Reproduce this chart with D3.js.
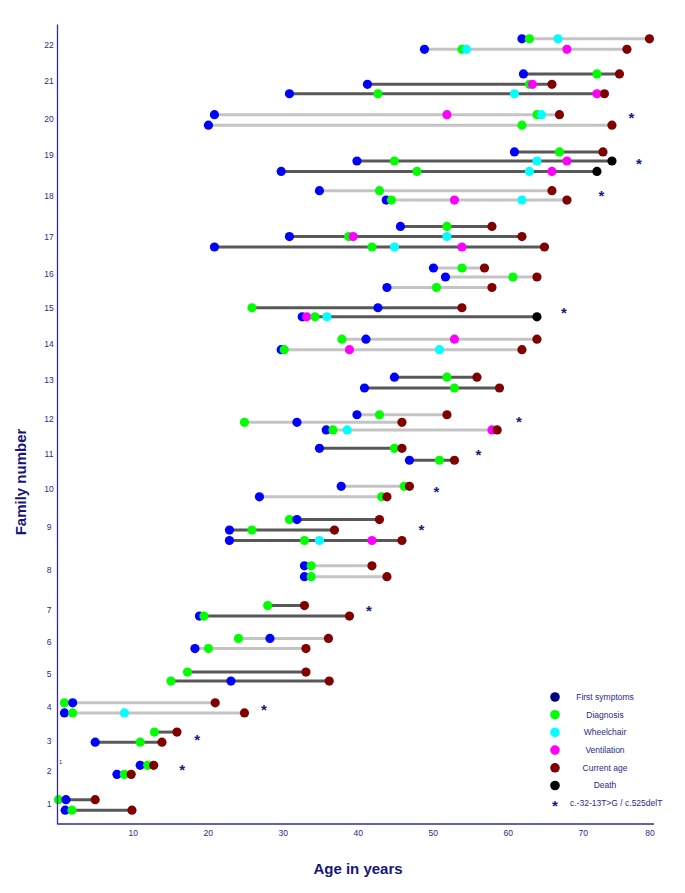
<!DOCTYPE html>
<html>
<head>
<meta charset="utf-8">
<script src="https://cdn.jsdelivr.net/npm/d3@7"></script>
<style>
  body { margin: 0; background: #fff; }
  svg text { font-family: "Liberation Sans", Arial, sans-serif; }
</style>
</head>
<body>
<div id="app"></div>
<script>
(function() {
  'use strict';

  // one entry per patient row, bottom to top
  var rowFamily = [1, 1, 2, 2, 3, 3, 4, 4, 5, 5, 6, 6, 7, 7, 8, 8, 9, 9, 9, 10, 10, 11, 11, 12, 12, 12,
    13, 13, 14, 14, 15, 15, 16, 16, 16, 17, 17, 17, 18, 18, 19, 19, 19, 20, 20, 21, 21, 21, 22, 22];
  var rowLevel = [0.83, 1.12, 1.82, 2.07, 2.71, 2.99, 3.52, 3.80, 4.40, 4.65, 5.30, 5.58, 6.20, 6.49,
    7.29, 7.59, 8.29, 8.58, 8.87, 9.50, 9.79, 10.51, 10.84, 11.35, 11.56, 11.77, 12.51, 12.81,
    13.57, 13.86, 14.48, 14.73, 15.29, 15.58, 15.83, 16.41, 16.70, 16.98, 17.71, 17.97,
    18.50, 18.79, 19.04, 19.78, 20.07, 20.65, 20.91, 21.20, 21.88, 22.17];

  var firstSymptoms = [1.0, 1.1, 7.9, 11.0, 5.0, null, 0.9, 2.0, 23.1, null, 18.3, 28.3, 18.9, null,
    32.9, 32.9, 22.9, 22.9, 31.9, 26.9, 37.8, 46.9, 34.9, 35.8, 31.9, 39.9, 40.9, 44.9,
    29.8, 41.1, 32.6, 42.7, 43.9, 51.7, 50.1, 20.9, 30.9, 45.7, 43.8, 34.9,
    29.8, 39.9, 60.9, 20.1, 20.9, 30.9, 41.3, 62.1, 48.9, 61.9];
  var diagnosis = [1.9, 0.1, 8.9, 12.0, 11.0, 12.9, 2.0, 0.9, 15.1, 17.3, 20.1, 24.1, 19.5, 28.0,
    33.8, 33.8, 32.9, 25.9, 30.9, 43.2, 46.2, 50.9, 44.9, 36.7, 24.9, 42.9, 52.9, 51.9,
    30.2, 37.9, 34.3, 25.9, 50.5, 60.7, 53.9, 41.9, 38.8, 51.9, 44.5, 42.9,
    47.9, 44.9, 66.9, 61.9, 63.9, 42.7, 62.9, 71.9, 53.9, 62.9];
  var wheelchair = [null, null, null, null, null, null, 8.9, null, null, null, null, null, null, null,
    null, null, 34.9, null, null, null, null, null, null, 38.6, null, null, null, null,
    50.9, null, 35.9, null, null, null, null, 44.9, 51.9, null, 61.9, null,
    62.9, 63.9, null, null, 64.5, 60.9, null, null, 54.5, 66.7];
  var ventilation = [null, null, null, null, null, null, null, null, null, null, null, null, null, null,
    null, null, 41.9, null, null, null, null, null, null, 57.9, null, null, null, null,
    38.9, 52.9, 33.2, null, null, null, null, 53.9, 39.4, null, 52.9, null,
    65.9, 67.9, null, null, 51.9, 71.9, 63.3, null, 67.9, null];
  var currentAge = [9.9, 5.0, 9.8, 12.8, 13.9, 15.9, 24.9, 21.0, 36.2, 33.1, 33.1, 36.1, 38.9, 32.9,
    43.9, 41.9, 45.9, 36.9, 42.9, 43.9, 46.9, 52.9, 45.9, 58.6, 45.9, 51.9, 58.9, 55.9,
    61.9, 63.9, null, 53.9, 57.9, 63.9, 56.9, 64.9, 61.9, 57.9, 67.9, 65.9,
    null, null, 72.7, 73.9, 66.9, 72.9, 65.9, 74.9, 75.9, 78.9];
  var death = [null, null, null, null, null, null, null, null, null, null, null, null, null, null,
    null, null, null, null, null, null, null, null, null, null, null, null, null, null,
    null, null, 63.9, null, null, null, null, null, null, null, null, null,
    71.9, 73.9, null, null, null, null, null, null, null, null];

  // family axis labels
  var familyLabels = [1, 2, 3, 4, 5, 6, 7, 8, 9, 10, 11, 12, 13, 14, 15, 16, 17, 18, 19, 20, 21, 22];
  var familyLabelLevel = [1.00, 1.92, 2.75, 3.68, 4.60, 5.50, 6.37, 7.49, 8.67, 9.72, 10.68, 11.66,
    12.74, 13.73, 14.73, 15.66, 16.70, 17.82, 18.95, 19.95, 21.02, 22.00];

  // families carrying c.-32-13T>G / c.525delT
  var mutationAge = [16.6, 18.6, 27.5, 41.5, 48.5, 50.5, 56.1, 61.5, 67.5, 72.5, 77.5, 76.5];
  var mutationLevel = [2.03, 2.86, 3.69, 6.43, 8.66, 9.71, 10.73, 11.64, 14.67, 17.91, 18.80, 20.06];

  var xTicks = [10, 20, 30, 40, 50, 60, 70, 80];

  var legendLabels = ['First symptoms', 'Diagnosis', 'Wheelchair', 'Ventilation', 'Current age', 'Death'];
  var legendColors = ['#000080', '#00ff00', '#00ffff', '#ff00ff', '#800000', '#000000'];

  var series = [
    {values: firstSymptoms, color: '#0000ff'},
    {values: diagnosis, color: '#00ff00'},
    {values: wheelchair, color: '#00ffff'},
    {values: ventilation, color: '#ff00ff'},
    {values: currentAge, color: '#800000'},
    {values: death, color: '#000000'}
  ];

  var width = 685, height = 893;
  var axisColor = '#2e2e9c';
  var textColor = '#2a2a86';
  var titleColor = '#16167a';

  var x = d3.scaleLinear().domain([0, 80]).range([57.7, 657.7]);
  var y = d3.scaleLinear().domain([0.447, 22.58]).range([824, 24]);

  var svg = d3.select('#app').append('svg')
    .attr('width', width).attr('height', height);

  // build rows
  var rows = rowFamily.map(function(fam, i) {
    var events = [];
    series.forEach(function(s) {
      if (s.values[i] != null) events.push({age: s.values[i], color: s.color});
    });
    events.sort(function(a, b) { return a.age - b.age; });
    return {family: fam, level: rowLevel[i], events: events};
  });

  // lines
  svg.append('g').selectAll('line').data(rows).enter().append('line')
    .attr('x1', function(d) { return x(d3.min(d.events, function(e) { return e.age; })); })
    .attr('x2', function(d) { return x(d3.max(d.events, function(e) { return e.age; })); })
    .attr('y1', function(d) { return y(d.level); })
    .attr('y2', function(d) { return y(d.level); })
    .attr('stroke', function(d) { return d.family % 2 ? '#585858' : '#c4c4c4'; })
    .attr('stroke-width', 3);

  // dots
  var rowG = svg.append('g').selectAll('g').data(rows).enter().append('g');
  rowG.selectAll('circle').data(function(d) {
    return d.events.map(function(e) { return {age: e.age, color: e.color, level: d.level}; });
  }).enter().append('circle')
    .attr('cx', function(d) { return x(d.age); })
    .attr('cy', function(d) { return y(d.level); })
    .attr('r', 4.6)
    .attr('fill', function(d) { return d.color; });

  // asterisks
  svg.append('g').selectAll('text').data(mutationAge).enter().append('text')
    .attr('x', function(d) { return x(d); })
    .attr('y', function(d, i) { return y(mutationLevel[i]) + 8; })
    .attr('text-anchor', 'middle')
    .attr('font-size', 15)
    .attr('font-weight', 'bold')
    .attr('fill', '#1a1a80')
    .text('*');

  // axes
  var xAxis = svg.append('g').attr('transform', 'translate(0,824)')
    .call(d3.axisBottom(x).tickValues(xTicks).tickSize(0).tickPadding(6));
  xAxis.select('.domain').attr('stroke', axisColor).attr('stroke-width', 1.3)
    .attr('d', 'M' + x(0) + ',0H' + x(79.5));
  xAxis.selectAll('text').attr('font-size', 8.5).attr('fill', textColor)
    .attr('font-family', '"Liberation Sans", Arial, sans-serif')
    .filter(function(d) { return d === 80; }).attr('text-anchor', 'end').attr('x', -3.5);

  var yAxis = svg.append('g').attr('transform', 'translate(57,0)')
    .call(d3.axisLeft(y).tickValues(familyLabelLevel).tickSize(0)
      .tickFormat(function(d, i) { return familyLabels[i]; }));
  yAxis.select('.domain').attr('stroke', axisColor).attr('stroke-width', 1.3);
  yAxis.selectAll('text').attr('font-size', 8.5).attr('fill', textColor)
    .attr('font-family', '"Liberation Sans", Arial, sans-serif')
    .attr('text-anchor', 'middle').attr('x', -8);

  // stray mark beside family 2
  svg.append('text').attr('x', 59).attr('y', 764)
    .attr('font-size', 6).attr('fill', textColor).text('1');

  // titles
  svg.append('text')
    .attr('transform', 'translate(25.5,482) rotate(-90)')
    .attr('text-anchor', 'middle')
    .attr('font-size', 15).attr('font-weight', 'bold').attr('fill', titleColor)
    .text('Family number');

  svg.append('text')
    .attr('x', 358).attr('y', 874)
    .attr('text-anchor', 'middle')
    .attr('font-size', 15).attr('font-weight', 'bold').attr('fill', titleColor)
    .text('Age in years');

  // legend
  var legend = svg.append('g').attr('transform', 'translate(555,697)');
  var items = legend.selectAll('g').data(legendLabels).enter().append('g')
    .attr('transform', function(d, i) { return 'translate(0,' + (i * 17.7) + ')'; });
  items.append('circle').attr('r', 4.8)
    .attr('fill', function(d, i) { return legendColors[i]; });
  items.append('text').attr('x', 50).attr('dy', '0.35em')
    .attr('text-anchor', 'middle')
    .attr('font-size', 8.5).attr('fill', textColor)
    .text(function(d) { return d; });

  var mut = legend.append('g').attr('transform', 'translate(0,' + (6 * 17.7) + ')');
  mut.append('text').attr('y', 8).attr('text-anchor', 'middle')
    .attr('font-size', 15).attr('font-weight', 'bold').attr('fill', '#1a1a80').text('*');
  mut.append('text').attr('x', 15).attr('dy', '0.35em')
    .attr('font-size', 8.5).attr('fill', textColor)
    .text('c.-32-13T>G / c.525delT');
})();
</script>
</body>
</html>
